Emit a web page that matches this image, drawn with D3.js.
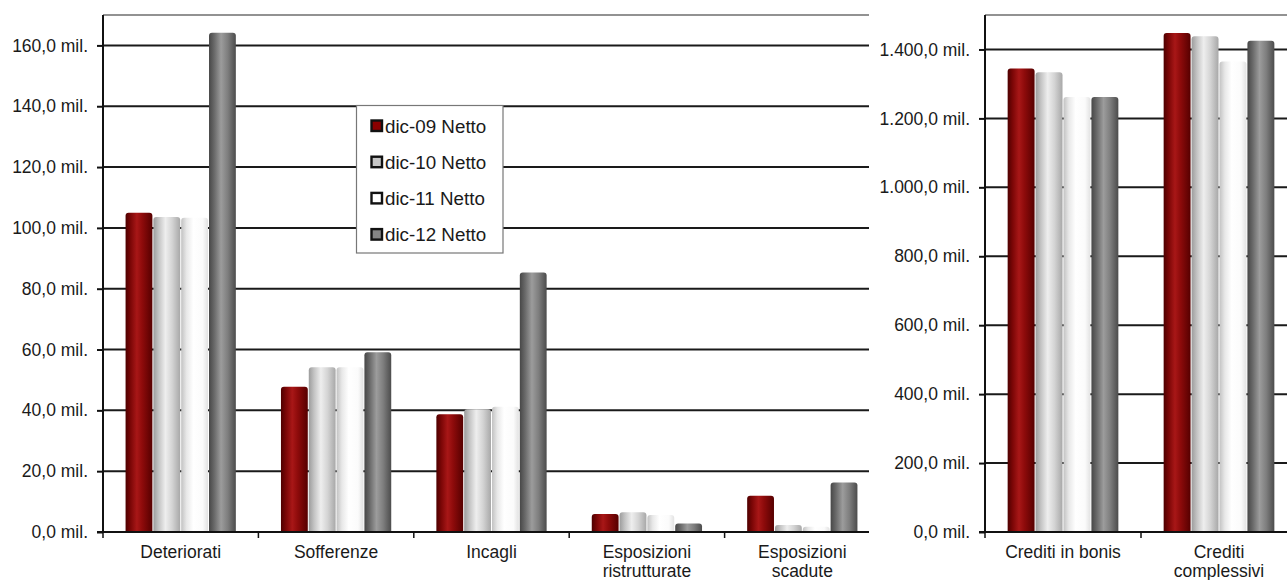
<!DOCTYPE html>
<html>
<head>
<meta charset="utf-8">
<script src="https://cdn.jsdelivr.net/npm/d3@7"></script>
<style>
  html, body { margin: 0; padding: 0; background: #fff; }
  svg { display: block; font-family: "Liberation Sans", Arial, sans-serif; }
</style>
</head>
<body>
<svg id="chart" width="1287" height="580"></svg>
<script>
// Esposizioni deteriorate (valori netti, milioni di euro)
const qualityCategories = ["Deteriorati", "Sofferenze", "Incagli", "Esposizioni ristrutturate", "Esposizioni scadute"];
const qualityDic09 = [105.0, 47.8, 38.7, 5.9, 11.9];
const qualityDic10 = [103.6, 54.2, 40.4, 6.5, 2.3];
const qualityDic11 = [103.3, 54.2, 41.2, 5.6, 1.7];
const qualityDic12 = [164.2, 59.1, 85.3, 2.8, 16.3];
const qualityTicks = [0, 20, 40, 60, 80, 100, 120, 140, 160];

// Crediti verso clientela (valori netti, milioni di euro)
const creditCategories = ["Crediti in bonis", "Crediti complessivi"];
const creditDic09 = [1345, 1448];
const creditDic10 = [1334, 1438];
const creditDic11 = [1262, 1365];
const creditDic12 = [1262, 1425];
const creditTicks = [0, 200, 400, 600, 800, 1000, 1200, 1400];

const seriesNames = ["dic-09 Netto", "dic-10 Netto", "dic-11 Netto", "dic-12 Netto"];

const itLocale = d3.formatLocale({ decimal: ",", thousands: ".", grouping: [3], currency: ["€", ""] });
const fmtMil = v => itLocale.format(",.1f")(v) + " mil.";

const FONT = "'Liberation Sans', Arial, sans-serif";
const svg = d3.select("#chart");
const defs = svg.append("defs");

// cylinder-like horizontal shading for each series
const shades = [
  { id: "g0", legend: "#8b0000", stops: [[0, "#4e0000"], [0.18, "#7a0606"], [0.42, "#a81717"], [0.62, "#8e0b0b"], [1, "#560000"]] },
  { id: "g1", legend: "#c6c6c6", stops: [[0, "#9c9c9c"], [0.2, "#c4c4c4"], [0.45, "#eeeeee"], [0.7, "#d4d4d4"], [1, "#a8a8a8"]] },
  { id: "g2", legend: "#ffffff", stops: [[0, "#c2c2c2"], [0.2, "#e8e8e8"], [0.45, "#ffffff"], [0.8, "#fbfbfb"], [1, "#e2e2e2"]] },
  { id: "g3", legend: "#858585", stops: [[0, "#474747"], [0.2, "#6a6a6a"], [0.45, "#9c9c9c"], [0.7, "#7e7e7e"], [1, "#4c4c4c"]] }
];
shades.forEach(s => {
  const g = defs.append("linearGradient").attr("id", s.id)
    .attr("x1", 0).attr("x2", 1).attr("y1", 0).attr("y2", 0);
  s.stops.forEach(([o, c]) => g.append("stop").attr("offset", o).attr("stop-color", c));
});

function barPath(x, y, w, base) {
  const r = Math.min(3, w / 2, Math.max(0, base - y));
  return `M${x},${base}V${y + r}Q${x},${y} ${x + r},${y}H${x + w - r}Q${x + w},${y} ${x + w},${y + r}V${base}Z`;
}

function wrapLabel(textSel, maxWidth) {
  textSel.each(function () {
    const t = d3.select(this);
    const words = t.text().split(/\s+/);
    const x = t.attr("x");
    t.text(null);
    let line = [];
    let tspan = t.append("tspan").attr("x", x).attr("dy", 0);
    words.forEach(w => {
      line.push(w);
      tspan.text(line.join(" "));
      if (tspan.node().getComputedTextLength() > maxWidth && line.length > 1) {
        line.pop();
        tspan.text(line.join(" "));
        line = [w];
        tspan = t.append("tspan").attr("x", x).attr("dy", "1.1em").text(w);
      }
    });
  });
}

function drawPanel(opts) {
  const g = svg.append("g");
  const { left, right, top, bottom, cats, series, yMax, ticks, bgLeft } = opts;

  if (bgLeft !== undefined) {
    g.append("rect").attr("x", bgLeft).attr("y", 0)
      .attr("width", 1287 - bgLeft).attr("height", 580).attr("fill", "#fff");
  }

  const y = d3.scaleLinear().domain([0, yMax]).range([bottom, top]);
  const x0 = d3.scaleBand().domain(cats).range([left, right]).padding(0);
  const bw = x0.bandwidth();
  const x1 = d3.scaleBand().domain(d3.range(series.length)).range([bw * 0.142, bw * 0.858]).padding(0);

  // plot frame (top edge)
  g.append("line").attr("x1", left).attr("x2", right).attr("y1", top).attr("y2", top)
    .attr("stroke", "#6e6e6e").attr("stroke-width", 1.3);

  // horizontal gridlines
  g.append("g").selectAll("line").data(ticks.filter(v => v > 0)).join("line")
    .attr("x1", left).attr("x2", right)
    .attr("y1", d => y(d)).attr("y2", d => y(d))
    .attr("stroke", "#1a1a1a").attr("stroke-width", 2);

  // bars
  const groups = g.append("g").selectAll("g").data(cats).join("g")
    .attr("transform", d => `translate(${x0(d)},0)`);
  groups.selectAll("path").data((c, ci) => series.map((s, si) => ({ si, v: s[ci] }))).join("path")
    .attr("d", d => barPath(x1(d.si) + 0.5, y(d.v), x1.bandwidth() - 1, y(0)))
    .attr("fill", d => `url(#${shades[d.si].id})`);

  // y axis: ticks and labels
  const ya = g.append("g").attr("transform", `translate(${left},0)`)
    .call(d3.axisLeft(y).tickValues(ticks).tickSize(6).tickFormat(""));
  ya.select(".domain").remove();
  ya.selectAll(".tick line").attr("stroke", "#111").attr("stroke-width", 2);
  g.append("g").selectAll("text").data(ticks).join("text")
    .attr("x", left - 15).attr("y", d => y(d)).attr("dy", "0.35em")
    .attr("text-anchor", "end")
    .style("font-family", FONT).style("font-size", "17.5px").style("fill", "#1a1a1a")
    .text(fmtMil);
  g.append("line").attr("x1", left).attr("x2", left).attr("y1", top).attr("y2", bottom + 1)
    .attr("stroke", "#111").attr("stroke-width", 2);

  // x axis with category boundary ticks
  g.append("line").attr("x1", left - 6).attr("x2", right).attr("y1", bottom).attr("y2", bottom)
    .attr("stroke", "#111").attr("stroke-width", 2);
  const bounds = cats.map(c => x0(c)).concat([right]);
  g.append("g").selectAll("line").data(bounds).join("line")
    .attr("x1", d => d).attr("x2", d => d).attr("y1", bottom).attr("y2", bottom + 6)
    .attr("stroke", "#111").attr("stroke-width", 1.5);

  g.append("g").selectAll("text").data(cats).join("text")
    .attr("x", d => x0(d) + bw / 2)
    .attr("y", bottom + 26)
    .attr("text-anchor", "middle")
    .style("font-family", FONT).style("font-size", "17.5px").style("fill", "#1a1a1a")
    .text(d => d)
    .call(wrapLabel, 118);

  return g;
}

// left panel: esposizioni deteriorate
drawPanel({
  left: 103, right: 880, top: 15, bottom: 532,
  cats: qualityCategories,
  series: [qualityDic09, qualityDic10, qualityDic11, qualityDic12],
  yMax: 170, ticks: qualityTicks
});

// legend
const legend = svg.append("g").attr("transform", "translate(356.5,105.5)");
legend.append("rect").attr("width", 146.5).attr("height", 147.5)
  .attr("fill", "#fff").attr("stroke", "#777").attr("stroke-width", 1.2);
const items = legend.selectAll("g").data(seriesNames).join("g")
  .attr("transform", (d, i) => `translate(0,${20.5 + i * 36.2})`);
items.append("rect").attr("x", 15).attr("y", -5.5).attr("width", 10.5).attr("height", 10.5)
  .attr("fill", (d, i) => shades[i].legend).attr("stroke", "#111").attr("stroke-width", 2.4);
items.append("text").attr("x", 28.5).attr("y", 0).attr("dy", "0.35em")
  .style("font-family", FONT).style("font-size", "18.8px").style("fill", "#1a1a1a")
  .text(d => d);

// right panel: crediti verso clientela
drawPanel({
  left: 985, right: 1297, top: 15, bottom: 532,
  cats: creditCategories,
  series: [creditDic09, creditDic10, creditDic11, creditDic12],
  yMax: 1500, ticks: creditTicks, bgLeft: 869
});
</script>
</body>
</html>
